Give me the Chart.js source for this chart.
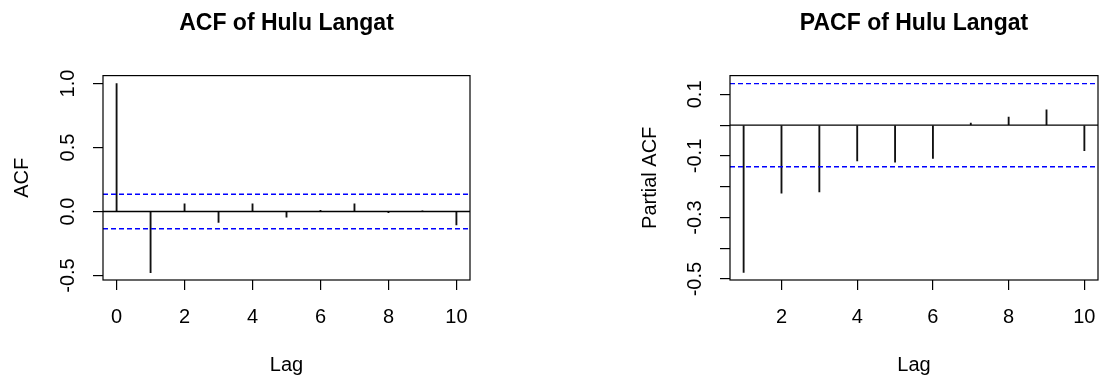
<!DOCTYPE html>
<html>
<head>
<meta charset="utf-8">
<script src="https://cdn.jsdelivr.net/npm/chart.js@4.4.0/dist/chart.umd.min.js"></script>
<style>
  body { margin: 0; background: #fff; }
  #wrap { position: relative; width: 1099px; height: 378px; overflow: hidden; }
  canvas { position: absolute; top: 0; }
</style>
</head>
<body>
<div id="wrap">
  <canvas id="acfChart" width="550" height="378" style="left:0"></canvas>
  <canvas id="pacfChart" width="549" height="378" style="left:550px"></canvas>
</div>
<script>
// values
const acfLags = [0, 1, 2, 3, 4, 5, 6, 7, 8, 9, 10];
const acfValues = [1.0, -0.478, 0.06, -0.086, 0.06, -0.044, 0.01, 0.06, -0.008, 0.006, -0.104];
const pacfLags = [1, 2, 3, 4, 5, 6, 7, 8, 9, 10];
const pacfValues = [-0.478, -0.221, -0.217, -0.116, -0.12, -0.108, 0.007, 0.026, 0.05, -0.083];
const confLimit = 0.135;

const acfXTicks = [0, 2, 4, 6, 8, 10];
const acfYTicks = [-0.5, 0, 0.5, 1.0];
const acfYLabels = ['-0.5', '0.0', '0.5', '1.0'];
const pacfXTicks = [2, 4, 6, 8, 10];
const pacfYTicks = [-0.5, -0.4, -0.3, -0.2, -0.1, 0, 0.1];
const pacfYLabels = ['-0.5', '', '-0.3', '', '-0.1', '', '0.1'];

const acfXRange = [-0.4, 10.4];
const acfYRange = [-0.535, 1.062];
const pacfXRange = [0.64, 10.36];
const pacfYRange = [-0.503, 0.161];

Chart.defaults.font.family = "'Liberation Sans', Arial, sans-serif";
Chart.defaults.color = '#000';

const boxPlugin = {
  id: 'box',
  afterDraw(chart) {
    const a = chart.chartArea;
    const ctx = chart.ctx;
    ctx.save();
    ctx.strokeStyle = '#000';
    ctx.lineWidth = 1.2;
    ctx.strokeRect(a.left, a.top, a.right - a.left, a.bottom - a.top);
    ctx.restore();
  }
};

function hline(y, xr, color, dash) {
  return {
    type: 'line',
    data: [{ x: xr[0], y: y }, { x: xr[1], y: y }],
    borderColor: color,
    borderWidth: 1.4,
    borderDash: dash,
    pointRadius: 0,
    fill: false
  };
}

function makeChart(id, opts) {
  const spikes = opts.lags.map((l, i) => ({ x: l, y: opts.values[i] }));
  return new Chart(document.getElementById(id), {
    type: 'bar',
    data: {
      datasets: [
        hline(0, opts.xRange, '#000', []),
        hline(confLimit, opts.xRange, '#0000ff', [5, 3]),
        hline(-confLimit, opts.xRange, '#0000ff', [5, 3]),
        {
          type: 'bar',
          data: spikes,
          backgroundColor: '#111',
          borderWidth: 0,
          barThickness: 1.2
        }
      ]
    },
    options: {
      responsive: false,
      animation: false,
      layout: { autoPadding: false, padding: { left: 0, right: opts.padRight, top: 0, bottom: 0 } },
      plugins: {
        legend: { display: false },
        tooltip: { enabled: false },
        title: {
          display: true,
          fullSize: false,
          text: opts.title,
          color: '#000',
          font: { size: 23, weight: 'bold' },
          padding: { top: 10, bottom: 38 }
        }
      },
      scales: {
        x: {
          type: 'linear',
          min: opts.xRange[0],
          max: opts.xRange[1],
          offset: false,
          afterBuildTicks: s => { s.ticks = opts.xTicks.map(v => ({ value: v })); },
          afterFit: s => { s.height = 98; s.paddingLeft = 0; s.paddingRight = 0; },
          grid: { offset: false, drawOnChartArea: false, drawTicks: true, tickLength: 10, color: '#000', lineWidth: 1.2 },
          border: { display: false },
          ticks: { font: { size: 20 }, color: '#000', padding: 15, autoSkip: false, maxRotation: 0,
                   callback: v => String(v) },
          title: { display: true, text: 'Lag', font: { size: 20 }, color: '#000', padding: { top: 0, bottom: 1 } }
        },
        y: {
          type: 'linear',
          min: opts.yRange[0],
          max: opts.yRange[1],
          afterBuildTicks: s => { s.ticks = opts.yTicks.map(v => ({ value: v })); },
          afterFit: s => { s.width = opts.yWidth; s.paddingTop = 0; s.paddingBottom = 0; },
          grid: { drawOnChartArea: false, drawTicks: true, tickLength: 10, color: '#000', lineWidth: 1.2 },
          border: { display: false },
          ticks: { font: { size: 20 }, color: '#000', padding: opts.tickPad, autoSkip: false,
                   minRotation: 90, maxRotation: 90, crossAlign: 'center',
                   callback: (v, i) => opts.yLabels[i] },
          title: { display: true, text: opts.yTitle, font: { size: 20 }, color: '#000', padding: { top: opts.titlePad, bottom: 0 } }
        }
      }
    },
    plugins: [boxPlugin]
  });
}

makeChart('acfChart', {
  title: 'ACF of Hulu Langat', yTitle: 'ACF',
  lags: acfLags, values: acfValues,
  xRange: acfXRange, yRange: acfYRange,
  xTicks: acfXTicks, yTicks: acfYTicks, yLabels: acfYLabels,
  padRight: 80, yWidth: 103, tickPad: 7, titlePad: 10
});

makeChart('pacfChart', {
  title: 'PACF of Hulu Langat', yTitle: 'Partial ACF',
  lags: pacfLags, values: pacfValues,
  xRange: pacfXRange, yRange: pacfYRange,
  xTicks: pacfXTicks, yTicks: pacfYTicks, yLabels: pacfYLabels,
  padRight: 1, yWidth: 180, tickPad: 7, titlePad: 88
});
</script>
</body>
</html>
